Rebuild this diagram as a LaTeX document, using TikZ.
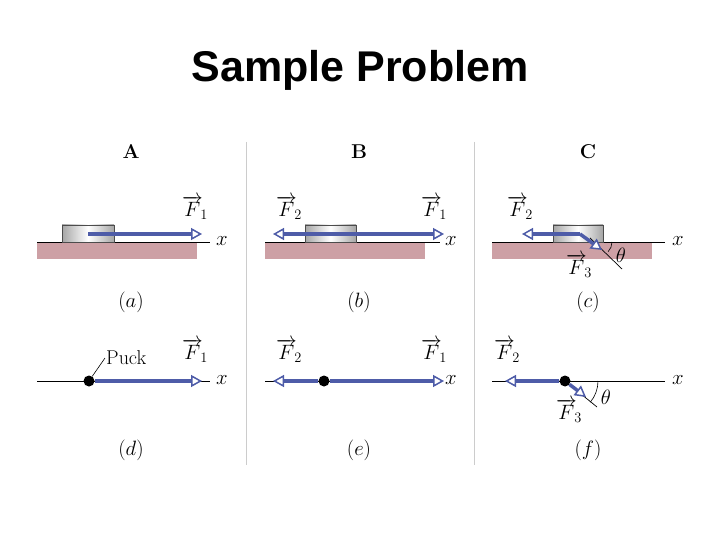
\documentclass[tikz,border=0pt]{standalone}
\usepackage{fontspec}
\setsansfont{Liberation Sans}
\usetikzlibrary{arrows.meta}
\definecolor{fblue}{RGB}{78,92,168}
\definecolor{gnd}{RGB}{205,160,165}
\newcommand{\fv}[1]{\overrightarrow{F}_{\!#1}}
\tikzset{
 force/.style={fblue,line width=3.5pt,-{Triangle[open,fill=white,length=11pt,width=12pt,line width=1.5pt]}},
 axis/.style={black,line width=0.8pt},
 lab/.style={font=\fontsize{21}{24}\selectfont,inner sep=1pt},
 vlab/.style={font=\fontsize{22}{25}\selectfont},
 dot/.style={circle,fill=black,inner sep=0pt,minimum size=11pt},
}
\begin{document}
\begin{tikzpicture}[x=1pt,y=-1pt]
\useasboundingbox (0,0) rectangle (720,540);
\node[font=\sffamily\bfseries\fontsize{43}{50}\selectfont] (title) at (360,70) {Sample Problem};
\node[font=\bfseries\fontsize{20}{23}\selectfont] (A) at (131,152) {A};
\node[font=\bfseries\fontsize{20}{23}\selectfont] (B) at (359,152) {B};
\node[font=\bfseries\fontsize{20}{23}\selectfont] (C) at (588,152) {C};
\draw[gray!40,line width=1pt] (246,142) -- (246,465) (474,142) -- (474,465);
% ---- row 1
\fill[gnd] (37,243) rectangle (197,259);
\fill[gnd] (265,243) rectangle (425,259);
\fill[gnd] (492,243) rectangle (652,259);
\draw[axis] (37,242) -- (210,242);
\draw[axis] (265,242) -- (440,242);
\draw[axis] (492,242) -- (665,242);
\shade[left color=gray!70,right color=gray!70,middle color=white] (62,225) rectangle (114,242);
\shade[left color=gray!70,right color=gray!70,middle color=white] (305,225) rectangle (356,242);
\shade[left color=gray!70,right color=gray!70,middle color=white] (553,225) rectangle (603,242);
\draw[black!70] (62,225) rectangle (114,242) (305,225) rectangle (356,242) (553,225) rectangle (603,242);
\coordinate (pa) at (88,234);
\coordinate (pa1) at (202,234);
\draw[force] (pa) -- (pa1);
\node[lab] (xa) at (222,241) {$x$};
\node[lab] (fa1) at (195,208) {$\fv1$};
\coordinate (pb) at (330,234);
\coordinate (pb1) at (444,234);
\coordinate (pb2) at (273,234);
\draw[force] (pb) -- (pb1);
\draw[force] (pb) -- (pb2);
\node[lab] (xb) at (451,241) {$x$};
\node[lab] (fb1) at (434,208) {$\fv1$};
\node[lab] (fb2) at (289,208) {$\fv2$};
\coordinate (pc) at (580,234);
\coordinate (pc2) at (522,234);
\coordinate (pc3) at (602,250);
\coordinate (tc0) at (590,238);
\coordinate (tc1) at (622,269);
\draw[black,line width=0.7pt] (tc0) -- (tc1);
\draw[force] (pc) -- (pc2);
\draw[force] (pc) -- (pc3);
\draw[black,line width=0.6pt] (612,242) arc[start angle=0,end angle=44,radius=14];
\node[lab] (thc) at (621,255) {$\theta$};
\node[lab] (xc) at (678,241) {$x$};
\node[lab] (fc2) at (520,208) {$\fv2$};
\node[lab] (fc3) at (579,266) {$\fv3$};
\node[vlab] (la) at (131,302) {$(a)$};
\node[vlab] (lb) at (359,302) {$(b)$};
\node[vlab] (lc) at (588,302) {$(c)$};
% ---- row 2
\draw[axis] (37,381) -- (210,381);
\draw[axis] (265,381) -- (440,381);
\draw[axis] (492,381) -- (665,381);
\node[dot] (dd) at (89,381) {};
\coordinate (dd1) at (202,381);
\draw[force] (dd) -- (dd1);
\coordinate (pl) at (105,358);
\draw[black,line width=0.6pt] (dd) -- (pl);
\node[font=\fontsize{20}{23}\selectfont,anchor=west,inner sep=1pt] (puck) at (pl) {Puck};
\node[lab] (xd) at (222,380) {$x$};
\node[lab] (fd1) at (195,351) {$\fv1$};
\node[dot] (de) at (324,381) {};
\coordinate (de1) at (444,381);
\coordinate (de2) at (273,381);
\draw[force] (de) -- (de1);
\draw[force] (de) -- (de2);
\node[lab] (xe) at (451,380) {$x$};
\node[lab] (fe1) at (434,351) {$\fv1$};
\node[lab] (fe2) at (289,351) {$\fv2$};
\node[dot] (df) at (565,381) {};
\coordinate (df2) at (505,381);
\coordinate (df3) at (586,397);
\coordinate (tf1) at (597,407);
\draw[black,line width=0.7pt] (df) -- (tf1);
\draw[force] (df) -- (df2);
\draw[force] (df) -- (df3);
\draw[black,line width=0.6pt] (598,381) arc[start angle=0,end angle=40,radius=33];
\node[lab] (thf) at (606,397) {$\theta$};
\node[lab] (xf) at (678,380) {$x$};
\node[lab] (ff2) at (507,351) {$\fv2$};
\node[lab] (ff3) at (569,411) {$\fv3$};
\node[vlab] (ld) at (131,450) {$(d)$};
\node[vlab] (le) at (359,450) {$(e)$};
\node[vlab] (lf) at (588,450) {$(f)$};
\end{tikzpicture}
\end{document}
